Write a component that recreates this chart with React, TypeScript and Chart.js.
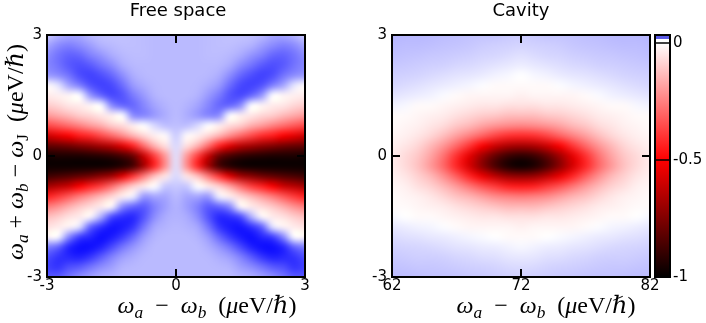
import React, { useEffect, useRef } from "react";
import { Chart, registerables } from "chart.js";

Chart.register(...registerables);

// ---------------- Data: "Free space" panel ----------------
const freeSpaceX = [-3, -2.75, -2.5, -2.25, -2, -1.75, -1.5, -1.25, -1, -0.75, -0.5, -0.25, 0, 0.25, 0.5, 0.75, 1, 1.25, 1.5, 1.75, 2, 2.25, 2.5, 2.75, 3];
const freeSpaceY = [3, 2.75, 2.5, 2.25, 2, 1.75, 1.5, 1.25, 1, 0.75, 0.5, 0.25, 0, -0.25, -0.5, -0.75, -1, -1.25, -1.5, -1.75, -2, -2.25, -2.5, -2.75, -3];
// rows from y = 3 (top) to y = -3 (bottom); negative = red/black, positive = blue (normalised)
const freeSpaceZ = [
  [0.2, 0.3, 0.35, 0.35, 0.28, 0.25, 0.24, 0.24, 0.25, 0.26, 0.27, 0.27, 0.27, 0.27, 0.27, 0.26, 0.25, 0.24, 0.24, 0.25, 0.28, 0.35, 0.35, 0.3, 0.2],
  [0.35, 0.45, 0.5, 0.45, 0.38, 0.3, 0.27, 0.25, 0.25, 0.26, 0.27, 0.27, 0.27, 0.27, 0.27, 0.26, 0.25, 0.25, 0.27, 0.3, 0.38, 0.45, 0.5, 0.45, 0.35],
  [0.45, 0.55, 0.62, 0.6, 0.5, 0.42, 0.33, 0.28, 0.26, 0.26, 0.27, 0.27, 0.27, 0.27, 0.27, 0.26, 0.26, 0.28, 0.33, 0.42, 0.5, 0.6, 0.62, 0.55, 0.45],
  [0.48, 0.55, 0.65, 0.7, 0.65, 0.55, 0.45, 0.33, 0.28, 0.27, 0.27, 0.27, 0.27, 0.27, 0.27, 0.27, 0.28, 0.33, 0.45, 0.55, 0.65, 0.7, 0.65, 0.55, 0.48],
  [0.4, 0.45, 0.55, 0.7, 0.75, 0.7, 0.6, 0.45, 0.32, 0.28, 0.27, 0.27, 0.27, 0.27, 0.27, 0.28, 0.32, 0.45, 0.6, 0.7, 0.75, 0.7, 0.55, 0.45, 0.4],
  [-0.01, 0.1, 0.35, 0.5, 0.68, 0.75, 0.72, 0.58, 0.4, 0.32, 0.28, 0.27, 0.27, 0.27, 0.28, 0.32, 0.4, 0.58, 0.72, 0.75, 0.68, 0.5, 0.35, 0.1, -0.01],
  [-0.04, -0.03, -0.02, 0, 0.4, 0.6, 0.72, 0.68, 0.52, 0.4, 0.3, 0.27, 0.27, 0.27, 0.3, 0.4, 0.52, 0.68, 0.72, 0.6, 0.4, 0, -0.02, -0.03, -0.04],
  [-0.1, -0.08, -0.05, -0.04, -0.02, 0, 0.45, 0.6, 0.6, 0.48, 0.36, 0.3, 0.27, 0.3, 0.36, 0.48, 0.6, 0.6, 0.45, 0, -0.02, -0.04, -0.05, -0.08, -0.1],
  [-0.2, -0.17, -0.14, -0.1, -0.08, -0.05, -0.03, 0, 0.45, 0.48, 0.4, 0.32, 0.27, 0.32, 0.4, 0.48, 0.45, 0, -0.03, -0.05, -0.08, -0.1, -0.14, -0.17, -0.2],
  [-0.36, -0.33, -0.29, -0.25, -0.2, -0.16, -0.1, -0.07, -0.03, 0, 0.15, 0.25, 0.25, 0.25, 0.15, 0, -0.03, -0.07, -0.1, -0.16, -0.2, -0.25, -0.29, -0.33, -0.36],
  [-0.6, -0.55, -0.51, -0.45, -0.42, -0.36, -0.3, -0.23, -0.15, -0.08, -0.03, -0.01, 0.2, -0.01, -0.03, -0.08, -0.15, -0.23, -0.3, -0.36, -0.42, -0.45, -0.51, -0.55, -0.6],
  [-0.81, -0.8, -0.78, -0.75, -0.72, -0.68, -0.64, -0.56, -0.44, -0.29, -0.15, -0.06, 0.15, -0.06, -0.15, -0.29, -0.44, -0.56, -0.64, -0.68, -0.72, -0.75, -0.78, -0.8, -0.81],
  [-0.96, -0.95, -0.95, -0.95, -0.94, -0.93, -0.91, -0.87, -0.8, -0.61, -0.38, -0.2, 0.12, -0.2, -0.38, -0.61, -0.8, -0.87, -0.91, -0.93, -0.94, -0.95, -0.95, -0.95, -0.96],
  [-0.98, -0.98, -0.98, -0.98, -0.98, -0.98, -0.97, -0.94, -0.87, -0.68, -0.43, -0.22, 0.12, -0.22, -0.43, -0.68, -0.87, -0.94, -0.97, -0.98, -0.98, -0.98, -0.98, -0.98, -0.98],
  [-0.88, -0.86, -0.84, -0.81, -0.78, -0.73, -0.68, -0.56, -0.4, -0.26, -0.12, -0.05, 0.15, -0.05, -0.12, -0.26, -0.4, -0.56, -0.68, -0.73, -0.78, -0.81, -0.84, -0.86, -0.88],
  [-0.68, -0.64, -0.6, -0.51, -0.44, -0.38, -0.29, -0.18, -0.09, -0.04, 0, 0.22, 0.22, 0.22, 0, -0.04, -0.09, -0.18, -0.29, -0.38, -0.44, -0.51, -0.6, -0.64, -0.68],
  [-0.44, -0.39, -0.33, -0.26, -0.2, -0.14, -0.08, -0.03, 0.05, 0.4, 0.35, 0.35, 0.27, 0.35, 0.35, 0.4, 0.05, -0.03, -0.08, -0.14, -0.2, -0.26, -0.33, -0.39, -0.44],
  [-0.26, -0.22, -0.16, -0.11, -0.07, -0.04, -0.01, 0.45, 0.6, 0.65, 0.5, 0.38, 0.3, 0.38, 0.5, 0.65, 0.6, 0.45, -0.01, -0.04, -0.07, -0.11, -0.16, -0.22, -0.26],
  [-0.13, -0.1, -0.06, -0.04, -0.01, 0.3, 0.7, 0.82, 0.85, 0.68, 0.45, 0.33, 0.3, 0.33, 0.45, 0.68, 0.85, 0.82, 0.7, 0.3, -0.01, -0.04, -0.06, -0.1, -0.13],
  [-0.06, -0.04, -0.02, 0.1, 0.6, 0.8, 0.92, 0.9, 0.8, 0.55, 0.35, 0.3, 0.28, 0.3, 0.35, 0.55, 0.8, 0.9, 0.92, 0.8, 0.6, 0.1, -0.02, -0.04, -0.06],
  [-0.02, 0, 0.45, 0.75, 0.85, 0.95, 0.9, 0.78, 0.6, 0.4, 0.3, 0.27, 0.27, 0.27, 0.3, 0.4, 0.6, 0.78, 0.9, 0.95, 0.85, 0.75, 0.45, 0, -0.02],
  [0.5, 0.6, 0.85, 0.95, 0.95, 0.88, 0.72, 0.55, 0.42, 0.32, 0.27, 0.27, 0.27, 0.27, 0.27, 0.32, 0.42, 0.55, 0.72, 0.88, 0.95, 0.95, 0.85, 0.6, 0.5],
  [0.7, 0.8, 0.85, 0.88, 0.8, 0.65, 0.5, 0.38, 0.32, 0.28, 0.27, 0.27, 0.27, 0.27, 0.27, 0.28, 0.32, 0.38, 0.5, 0.65, 0.8, 0.88, 0.85, 0.8, 0.7],
  [0.75, 0.8, 0.7, 0.65, 0.55, 0.45, 0.38, 0.3, 0.28, 0.27, 0.27, 0.27, 0.27, 0.27, 0.27, 0.27, 0.28, 0.3, 0.38, 0.45, 0.55, 0.65, 0.7, 0.8, 0.75],
  [0.65, 0.65, 0.55, 0.45, 0.38, 0.32, 0.3, 0.27, 0.27, 0.27, 0.27, 0.27, 0.27, 0.27, 0.27, 0.27, 0.27, 0.27, 0.3, 0.32, 0.38, 0.45, 0.55, 0.65, 0.65],
];
const freeSpaceXTicks = [-3, 0, 3];
const freeSpaceYTicks = [-3, 0, 3];

// ---------------- Data: "Cavity" panel ----------------
const cavityX = [62, 63, 64, 65, 66, 67, 68, 69, 70, 71, 72, 73, 74, 75, 76, 77, 78, 79, 80, 81, 82];
const cavityY = [3, 2.75, 2.5, 2.25, 2, 1.75, 1.5, 1.25, 1, 0.75, 0.5, 0.25, 0, -0.25, -0.5, -0.75, -1, -1.25, -1.5, -1.75, -2, -2.25, -2.5, -2.75, -3];
const cavityZ = [
  [0.29, 0.28, 0.28, 0.27, 0.26, 0.25, 0.24, 0.23, 0.23, 0.21, 0.2, 0.21, 0.23, 0.23, 0.24, 0.25, 0.26, 0.27, 0.28, 0.28, 0.29],
  [0.27, 0.26, 0.26, 0.25, 0.24, 0.23, 0.22, 0.2, 0.19, 0.18, 0.17, 0.18, 0.19, 0.2, 0.22, 0.23, 0.24, 0.25, 0.26, 0.26, 0.27],
  [0.25, 0.24, 0.23, 0.22, 0.21, 0.2, 0.19, 0.17, 0.16, 0.14, 0.12, 0.14, 0.16, 0.17, 0.19, 0.2, 0.21, 0.22, 0.23, 0.24, 0.25],
  [0.22, 0.21, 0.2, 0.19, 0.18, 0.16, 0.15, 0.13, 0.11, 0.09, 0.07, 0.09, 0.11, 0.13, 0.15, 0.16, 0.18, 0.19, 0.2, 0.21, 0.22],
  [0.19, 0.18, 0.17, 0.15, 0.13, 0.11, 0.1, 0.08, 0.05, 0.03, 0, 0.03, 0.05, 0.08, 0.1, 0.11, 0.13, 0.15, 0.17, 0.18, 0.19],
  [0.16, 0.14, 0.12, 0.1, 0.08, 0.06, 0.04, 0.01, -0.01, -0.01, -0.01, -0.01, -0.01, 0.01, 0.04, 0.06, 0.08, 0.1, 0.12, 0.14, 0.16],
  [0.11, 0.09, 0.07, 0.05, 0.02, -0.01, -0.02, -0.02, -0.02, -0.02, -0.03, -0.02, -0.02, -0.02, -0.02, -0.01, 0.02, 0.05, 0.07, 0.09, 0.11],
  [0.05, 0.03, -0.01, -0.01, -0.02, -0.03, -0.04, -0.05, -0.05, -0.06, -0.06, -0.06, -0.05, -0.05, -0.04, -0.03, -0.02, -0.01, -0.01, 0.03, 0.05],
  [-0.01, -0.01, -0.02, -0.03, -0.04, -0.06, -0.08, -0.1, -0.11, -0.13, -0.13, -0.13, -0.11, -0.1, -0.08, -0.06, -0.04, -0.03, -0.02, -0.01, -0.01],
  [-0.01, -0.02, -0.03, -0.05, -0.07, -0.11, -0.14, -0.18, -0.21, -0.23, -0.24, -0.23, -0.21, -0.18, -0.14, -0.11, -0.07, -0.05, -0.03, -0.02, -0.01],
  [-0.02, -0.03, -0.05, -0.08, -0.13, -0.19, -0.25, -0.31, -0.37, -0.41, -0.42, -0.41, -0.37, -0.31, -0.25, -0.19, -0.13, -0.08, -0.05, -0.03, -0.02],
  [-0.03, -0.05, -0.08, -0.14, -0.21, -0.3, -0.4, -0.51, -0.6, -0.66, -0.68, -0.66, -0.6, -0.51, -0.4, -0.3, -0.21, -0.14, -0.08, -0.05, -0.03],
  [-0.04, -0.07, -0.11, -0.18, -0.28, -0.41, -0.55, -0.69, -0.81, -0.89, -0.92, -0.89, -0.81, -0.69, -0.55, -0.41, -0.28, -0.18, -0.11, -0.07, -0.04],
  [-0.04, -0.07, -0.12, -0.2, -0.3, -0.43, -0.58, -0.73, -0.86, -0.95, -0.98, -0.95, -0.86, -0.73, -0.58, -0.43, -0.3, -0.2, -0.12, -0.07, -0.04],
  [-0.03, -0.05, -0.09, -0.14, -0.22, -0.32, -0.43, -0.54, -0.63, -0.7, -0.72, -0.7, -0.63, -0.54, -0.43, -0.32, -0.22, -0.14, -0.09, -0.05, -0.03],
  [-0.02, -0.03, -0.06, -0.09, -0.14, -0.2, -0.27, -0.34, -0.39, -0.44, -0.45, -0.44, -0.39, -0.34, -0.27, -0.2, -0.14, -0.09, -0.06, -0.03, -0.02],
  [-0.01, -0.02, -0.03, -0.05, -0.08, -0.12, -0.15, -0.19, -0.23, -0.25, -0.26, -0.25, -0.23, -0.19, -0.15, -0.12, -0.08, -0.05, -0.03, -0.02, -0.01],
  [-0.01, -0.01, -0.02, -0.03, -0.04, -0.06, -0.08, -0.1, -0.12, -0.14, -0.14, -0.14, -0.12, -0.1, -0.08, -0.06, -0.04, -0.03, -0.02, -0.01, -0.01],
  [0.03, 0, -0.01, -0.01, -0.02, -0.03, -0.04, -0.05, -0.05, -0.06, -0.06, -0.06, -0.05, -0.05, -0.04, -0.03, -0.02, -0.01, -0.01, 0, 0.03],
  [0.09, 0.07, 0.05, 0.04, 0.01, -0.01, -0.02, -0.02, -0.02, -0.02, -0.03, -0.02, -0.02, -0.02, -0.02, -0.01, 0.01, 0.04, 0.05, 0.07, 0.09],
  [0.14, 0.12, 0.11, 0.09, 0.08, 0.06, 0.04, 0.02, 0, -0.01, -0.01, -0.01, 0, 0.02, 0.04, 0.06, 0.08, 0.09, 0.11, 0.12, 0.14],
  [0.18, 0.17, 0.16, 0.15, 0.13, 0.11, 0.1, 0.08, 0.07, 0.05, 0.03, 0.05, 0.07, 0.08, 0.1, 0.11, 0.13, 0.15, 0.16, 0.17, 0.18],
  [0.21, 0.2, 0.19, 0.19, 0.18, 0.16, 0.15, 0.13, 0.12, 0.1, 0.09, 0.1, 0.12, 0.13, 0.15, 0.16, 0.18, 0.19, 0.19, 0.2, 0.21],
  [0.24, 0.23, 0.22, 0.22, 0.21, 0.2, 0.19, 0.18, 0.17, 0.15, 0.14, 0.15, 0.17, 0.18, 0.19, 0.2, 0.21, 0.22, 0.22, 0.23, 0.24],
  [0.26, 0.26, 0.25, 0.24, 0.24, 0.23, 0.22, 0.21, 0.2, 0.19, 0.18, 0.19, 0.2, 0.21, 0.22, 0.23, 0.24, 0.24, 0.25, 0.26, 0.26],
];
const cavityXTicks = [62, 72, 82];
const cavityYTicks = [-3, 0, 3];

// ---------------- Colour bar ----------------
const colorbarTicks = [-1, -0.5, 0];
const colorbarStops = [-1, -0.5, 0];
const colorbarMin = -1;
const colorbarMax = 0.034;
const colorbarBlueFrom = 0.017;

// ---------------- helpers ----------------
const SANS = '"DejaVu Sans", sans-serif';
const SERIF = '"Liberation Serif", "DejaVu Serif", serif';

function valueToRGB(v: number): [number, number, number] {
  if (v >= 0) {
    const t = Math.min(1, v);
    const c = Math.round(255 * (1 - t));
    return [c, c, 255];
  }
  const a = Math.min(1, -v);
  if (a <= 0.5) {
    const c = Math.round(255 * (1 - a / 0.5));
    return [255, c, c];
  }
  const r = Math.round(255 * (1 - (a - 0.5) / 0.5));
  return [r, 0, 0];
}

type Piece = { t: string; i?: boolean; sub?: boolean };

function pieceFont(p: Piece, size: number) {
  const s = p.sub ? size * 0.72 : size;
  return `${p.i ? "italic " : ""}${s}px ${SERIF}`;
}

function drawMath(ctx: CanvasRenderingContext2D, pieces: Piece[], cx: number, cy: number, size: number, rotate: boolean) {
  ctx.save();
  ctx.translate(cx, cy);
  if (rotate) ctx.rotate(-Math.PI / 2);
  let total = 0;
  const widths = pieces.map((p) => {
    ctx.font = pieceFont(p, size);
    const w = ctx.measureText(p.t).width;
    total += w;
    return w;
  });
  let x = -total / 2;
  ctx.fillStyle = "#000";
  ctx.textBaseline = "alphabetic";
  ctx.textAlign = "left";
  pieces.forEach((p, k) => {
    ctx.font = pieceFont(p, size);
    ctx.fillText(p.t, x, p.sub ? size * 0.22 : 0);
    x += widths[k];
  });
  ctx.restore();
}

const xTitlePieces: Piece[] = [
  { t: "ω", i: true }, { t: "a", i: true, sub: true }, { t: "  −  " },
  { t: "ω", i: true }, { t: "b", i: true, sub: true }, { t: "  (" },
  { t: "μ", i: true }, { t: "eV" }, { t: "/" }, { t: "ℏ", i: true }, { t: ")" },
];
const yTitlePieces: Piece[] = [
  { t: "ω", i: true }, { t: "a", i: true, sub: true }, { t: " + " },
  { t: "ω", i: true }, { t: "b", i: true, sub: true }, { t: " − " },
  { t: "ω", i: true }, { t: "J", sub: true }, { t: "  (" },
  { t: "μ", i: true }, { t: "eV" }, { t: "/" }, { t: "ℏ", i: true }, { t: ")" },
];

function makeHeatmapPlugin(xs: number[], ys: number[], z: number[][]) {
  return {
    id: "heatmap",
    beforeDatasetsDraw(chart: any) {
      const nx = xs.length;
      const ny = ys.length;
      const off = document.createElement("canvas");
      off.width = nx;
      off.height = ny;
      const octx = off.getContext("2d")!;
      const img = octx.createImageData(nx, ny);
      for (let j = 0; j < ny; j++) {
        for (let i = 0; i < nx; i++) {
          const [r, g, b] = valueToRGB(z[j][i]);
          const k = (j * nx + i) * 4;
          img.data[k] = r;
          img.data[k + 1] = g;
          img.data[k + 2] = b;
          img.data[k + 3] = 255;
        }
      }
      octx.putImageData(img, 0, 0);
      const xs0 = chart.scales.x;
      const ys0 = chart.scales.y;
      const dx = xs[1] - xs[0];
      const dy = ys[0] - ys[1];
      const left = xs0.getPixelForValue(xs[0] - dx / 2);
      const right = xs0.getPixelForValue(xs[nx - 1] + dx / 2);
      const top = ys0.getPixelForValue(ys[0] + dy / 2);
      const bottom = ys0.getPixelForValue(ys[ny - 1] - dy / 2);
      const { ctx, chartArea: a } = chart;
      ctx.save();
      ctx.beginPath();
      ctx.rect(a.left, a.top, a.right - a.left, a.bottom - a.top);
      ctx.clip();
      ctx.imageSmoothingEnabled = true;
      ctx.imageSmoothingQuality = "high";
      ctx.drawImage(off, left, top, right - left, bottom - top);
      ctx.restore();
    },
  };
}

function makeDecorPlugin(cfg: {
  title: string; titleX: number; xTicks: number[]; yTicks: number[];
  xTitleX: number; showYTitle: boolean;
}) {
  return {
    id: "decor",
    afterDraw(chart: any) {
      const { ctx, chartArea: a, scales } = chart;
      ctx.save();
      ctx.strokeStyle = "#000";
      ctx.lineWidth = 2;
      ctx.strokeRect(a.left, a.top, a.right - a.left, a.bottom - a.top);
      ctx.beginPath();
      cfg.xTicks.forEach((v) => {
        const px = scales.x.getPixelForValue(v);
        ctx.moveTo(px, a.top);
        ctx.lineTo(px, a.top + 8);
        ctx.moveTo(px, a.bottom);
        ctx.lineTo(px, a.bottom - 8);
      });
      cfg.yTicks.forEach((v) => {
        const py = scales.y.getPixelForValue(v);
        ctx.moveTo(a.left, py);
        ctx.lineTo(a.left + 8, py);
        ctx.moveTo(a.right, py);
        ctx.lineTo(a.right - 8, py);
      });
      ctx.stroke();
      ctx.fillStyle = "#000";
      ctx.font = `18px ${SANS}`;
      ctx.textAlign = "center";
      ctx.textBaseline = "alphabetic";
      ctx.fillText(cfg.title, cfg.titleX, 16);
      ctx.restore();
      drawMath(ctx, xTitlePieces, cfg.xTitleX, 313, 24, false);
      if (cfg.showYTitle) drawMath(ctx, yTitlePieces, 23, 152, 24, true);
    },
  };
}

const colorbarPlugin = {
  id: "colorbar",
  beforeDatasetsDraw(chart: any) {
    const { ctx, chartArea: a, scales } = chart;
    const y = scales.y;
    const p1 = y.getPixelForValue(colorbarMin);
    const p0 = y.getPixelForValue(0);
    const g = ctx.createLinearGradient(0, p1, 0, p0);
    colorbarStops.forEach((v) => {
      const [r, gg, b] = valueToRGB(v);
      g.addColorStop((v - colorbarMin) / (0 - colorbarMin), `rgb(${r},${gg},${b})`);
    });
    ctx.save();
    ctx.fillStyle = g;
    ctx.fillRect(a.left, p0, a.right - a.left, p1 - p0);
    const pb = y.getPixelForValue(colorbarBlueFrom);
    ctx.fillStyle = "#fff";
    ctx.fillRect(a.left, pb, a.right - a.left, p0 - pb);
    ctx.fillStyle = "rgb(90,90,230)";
    ctx.fillRect(a.left, a.top, a.right - a.left, pb - a.top);
    ctx.restore();
  },
  afterDraw(chart: any) {
    const { ctx, chartArea: a, scales } = chart;
    ctx.save();
    ctx.strokeStyle = "#000";
    ctx.lineWidth = 2;
    ctx.strokeRect(a.left, a.top, a.right - a.left, a.bottom - a.top);
    ctx.lineWidth = 1.5;
    ctx.beginPath();
    colorbarTicks.forEach((v) => {
      const py = scales.y.getPixelForValue(v);
      ctx.moveTo(a.left, py);
      ctx.lineTo(a.right, py);
    });
    ctx.stroke();
    ctx.restore();
  },
};

function tickFont() {
  return { family: SANS, size: 15 };
}

const plainLabel = (v: any) => String(v);

function panelConfig(opts: {
  xMin: number; xMax: number; yMin: number; yMax: number;
  xTicks: number[]; yTicks: number[]; yWidth: number; padRight: number;
  plugins: any[];
}) {
  return {
    type: "scatter" as const,
    data: { datasets: [] },
    options: {
      responsive: false,
      animation: false as const,
      events: [],
      layout: { padding: { top: 35, right: opts.padRight, bottom: 0, left: 0 } },
      plugins: { legend: { display: false }, tooltip: { enabled: false }, title: { display: false } },
      scales: {
        x: {
          type: "linear" as const,
          min: opts.xMin,
          max: opts.xMax,
          afterBuildTicks: (s: any) => { s.ticks = opts.xTicks.map((v) => ({ value: v })); },
          afterFit: (s: any) => { s.height = 46; },
          grid: { display: false, drawTicks: false },
          border: { display: false },
          ticks: { padding: 0, color: "#000", font: tickFont(), maxRotation: 0, autoSkip: false, callback: plainLabel },
        },
        y: {
          type: "linear" as const,
          min: opts.yMin,
          max: opts.yMax,
          afterBuildTicks: (s: any) => { s.ticks = opts.yTicks.map((v) => ({ value: v })); },
          afterFit: (s: any) => { s.width = opts.yWidth; },
          grid: { display: false, drawTicks: false },
          border: { display: false },
          ticks: { padding: 5, color: "#000", font: tickFont(), autoSkip: false, callback: plainLabel },
        },
      },
    },
    plugins: opts.plugins,
  };
}

export default function App() {
  const leftRef = useRef<HTMLCanvasElement>(null);
  const rightRef = useRef<HTMLCanvasElement>(null);
  const cbRef = useRef<HTMLCanvasElement>(null);

  useEffect(() => {
    const charts: Chart[] = [];
    charts.push(
      new Chart(
        leftRef.current!,
        panelConfig({
          xMin: -3, xMax: 3, yMin: -3, yMax: 3,
          xTicks: freeSpaceXTicks, yTicks: freeSpaceYTicks, yWidth: 47, padRight: 25,
          plugins: [
            makeHeatmapPlugin(freeSpaceX, freeSpaceY, freeSpaceZ),
            makeDecorPlugin({ title: "Free space", titleX: 178, xTicks: freeSpaceXTicks, yTicks: freeSpaceYTicks, xTitleX: 207, showYTitle: true }),
          ],
        }) as any
      )
    );
    charts.push(
      new Chart(
        rightRef.current!,
        panelConfig({
          xMin: 62, xMax: 82, yMin: -3, yMax: 3,
          xTicks: cavityXTicks, yTicks: cavityYTicks, yWidth: 62, padRight: 20,
          plugins: [
            makeHeatmapPlugin(cavityX, cavityY, cavityZ),
            makeDecorPlugin({ title: "Cavity", titleX: 191, xTicks: cavityXTicks, yTicks: cavityYTicks, xTitleX: 216, showYTitle: false }),
          ],
        }) as any
      )
    );
    charts.push(
      new Chart(cbRef.current!, {
        type: "scatter",
        data: { datasets: [] },
        options: {
          responsive: false,
          animation: false,
          events: [],
          layout: { padding: { top: 35, right: 0, bottom: 46, left: 15 } },
          plugins: { legend: { display: false }, tooltip: { enabled: false } },
          scales: {
            x: { type: "linear", min: 0, max: 1, display: false },
            y: {
              type: "linear",
              position: "right",
              min: colorbarMin,
              max: colorbarMax,
              afterBuildTicks: (s: any) => { s.ticks = colorbarTicks.map((v) => ({ value: v })); },
              afterFit: (s: any) => { s.width = 36; },
              grid: { display: false, drawTicks: false },
              border: { display: false },
              ticks: { padding: 3, color: "#000", font: tickFont(), autoSkip: false, callback: plainLabel },
            },
          },
        },
        plugins: [colorbarPlugin],
      } as any)
    );
    return () => charts.forEach((c) => c.destroy());
  }, []);

  return (
    <div style={{ position: "absolute", left: 0, top: 0, width: 706, height: 323, background: "#fff", overflow: "hidden" }}>
      <canvas ref={leftRef} width={330} height={323} style={{ position: "absolute", left: 0, top: 0 }} />
      <canvas ref={rightRef} width={340} height={323} style={{ position: "absolute", left: 330, top: 0 }} />
      <canvas ref={cbRef} width={66} height={323} style={{ position: "absolute", left: 640, top: 0 }} />
    </div>
  );
}
